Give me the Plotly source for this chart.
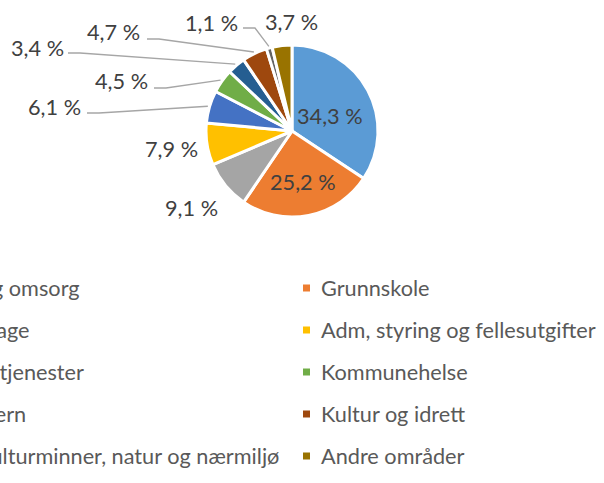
import math
import plotly.graph_objects as go

# ---------------- data ----------------
categories = [
    "Pleie og omsorg",
    "Grunnskole",
    "Barnehage",
    "Adm, styring og fellesutgifter",
    "Sosiale tjenester",
    "Kommunehelse",
    "Barnevern",
    "Kultur og idrett",
    "Plan, kulturminner, natur og nærmiljø",
    "Andre områder",
]
shares = [34.3, 25.2, 9.1, 7.9, 6.1, 4.5, 3.4, 4.7, 1.1, 3.7]
colors = ["#5B9BD5", "#ED7D31", "#A5A5A5", "#FFC000", "#4472C4",
          "#70AD47", "#255E91", "#9E480E", "#636363", "#997300"]

# ---------------- layout helpers ----------------
W, H = 604, 483
def px(x):
    return x / W
def py(y):
    return 1 - y / H

cx, cy, R = 292, 131, 86
FONT = "Lato, 'Open Sans', sans-serif"
FS = 21.7

fig = go.Figure(go.Pie(
    labels=categories, values=shares, sort=False,
    direction="clockwise", rotation=0,
    marker=dict(colors=colors, line=dict(color="white", width=3)),
    textinfo="none", hoverinfo="label+percent",
    domain=dict(x=[px(cx - R), px(cx + R)], y=[py(cy + R), py(cy - R)]),
    showlegend=False,
))

# label placement (pixel centres) and leader-line starts (None = no leader)
label_pos = [(330, 116), (303, 182), (191, 208), (171, 149), (54, 107),
             (121, 81), (37, 48), (113, 32), (211, 23), (291, 22)]
leader_start = [None, None, None, None, (87, 113), (154, 88), (68, 53),
                (147, 39), (243, 28), None]

annotations = []
shapes = []
total = sum(shares)
cum = 0.0
for i, v in enumerate(shares):
    mid = (cum + v / 2) / total * 2 * math.pi
    cum += v
    txt = f"{v:.1f} %".replace(".", ",")
    lx, ly = label_pos[i]
    annotations.append(dict(x=px(lx), y=py(ly), xref="paper", yref="paper",
                            text=txt, showarrow=False, xanchor="center",
                            yanchor="middle",
                            font=dict(family=FONT, size=FS, color="#404040")))
    if leader_start[i] is not None:
        sx, sy = leader_start[i]
        ex = cx + R * 1.02 * math.sin(mid)
        ey = cy - R * 1.02 * math.cos(mid)
        path = (f"M {px(sx)},{py(sy)} L {px(sx + 12)},{py(sy)} "
                f"L {px(ex)},{py(ey)}")
        shapes.append(dict(type="path", path=path, xref="paper", yref="paper",
                           line=dict(color="#A6A6A6", width=1.3)))

# legend (two columns, row-major like the original; left column is cropped)
row_y = [288, 330, 372, 414, 456]
col_marker_x = [-91, 303]
col_text_x = [-74, 319]
for i, name in enumerate(categories):
    r, c = divmod(i, 2)
    y = row_y[r]
    mx = col_marker_x[c]
    shapes.append(dict(type="rect", xref="paper", yref="paper",
                       x0=px(mx), x1=px(mx + 7), y0=py(y + 3.5), y1=py(y - 3.5),
                       fillcolor=colors[i], line=dict(width=0)))
    annotations.append(dict(x=px(col_text_x[c]), y=py(y), xref="paper",
                            yref="paper", text=name, showarrow=False,
                            xanchor="left", yanchor="middle",
                            font=dict(family=FONT, size=FS, color="#595959")))

fig.update_layout(
    width=W, height=H, autosize=False,
    margin=dict(l=0, r=0, t=0, b=0),
    paper_bgcolor="white", plot_bgcolor="white",
    annotations=annotations, shapes=shapes,
    showlegend=False,
)

fig.write_html("out.html", config={"displayModeBar": False},
               post_script="document.body.style.margin='0px';")
